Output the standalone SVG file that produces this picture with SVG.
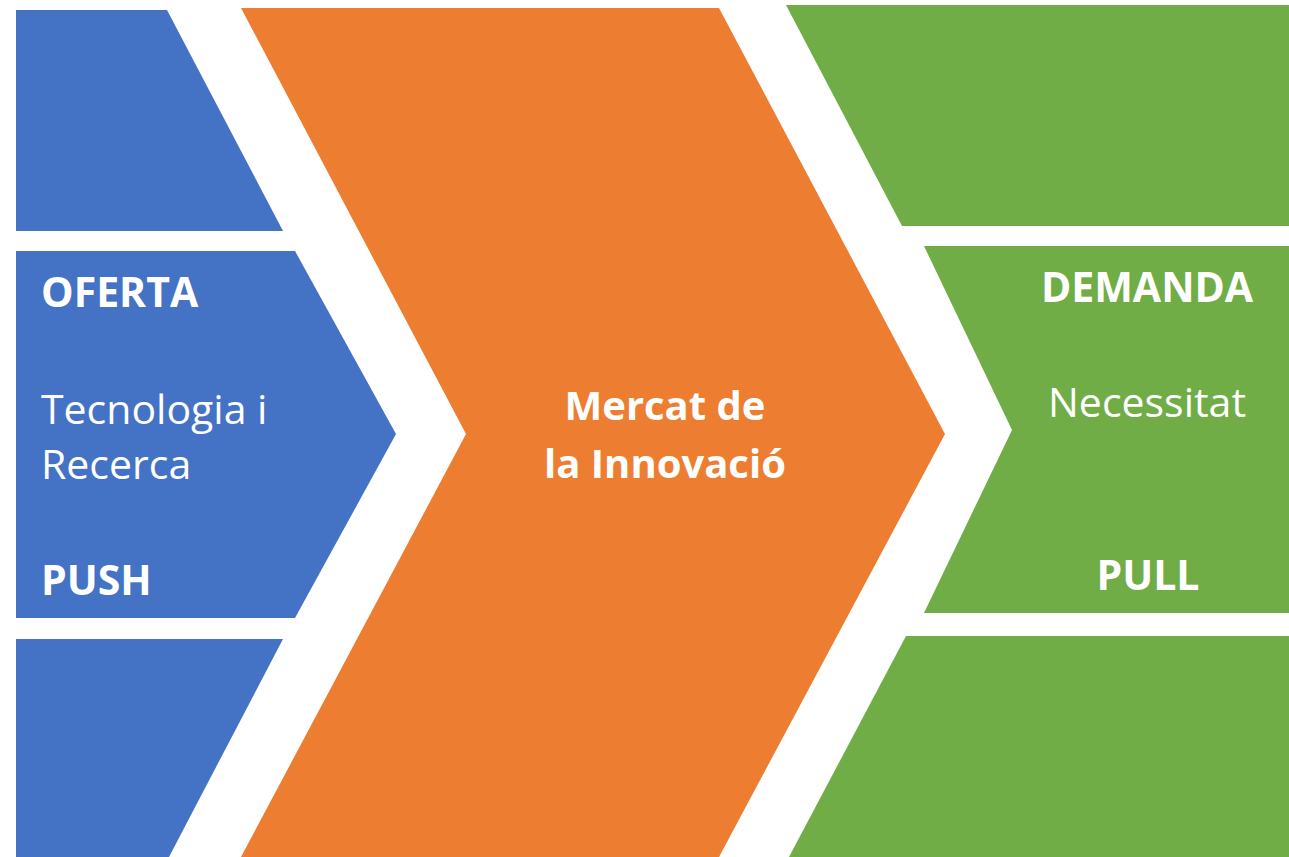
<svg xmlns="http://www.w3.org/2000/svg" width="1289" height="857" viewBox="0 0 1289 857">
<style>
.blue{fill:#4472C4}
.orange{fill:#ED7D31}
.green{fill:#70AD47}
text{fill:#FFFFFF;font-family:"Open Sans","Liberation Sans",sans-serif}
.b{font-weight:bold}
</style>
<rect width="1289" height="857" fill="#FFFFFF"/>
<g id="blue-top"><polygon class="blue" points="16,10 167,10 283,231 16,231"/></g>
<g id="oferta">
<polygon class="blue" points="16,251 295,251 396,434 295,618 16,618"/>
<text class="b" x="41" y="307" font-size="41">OFERTA</text>
<text x="41" y="424" font-size="41">Tecnologia i</text>
<text x="41" y="479" font-size="41">Recerca</text>
<text class="b" x="41" y="595" font-size="41">PUSH</text>
</g>
<g id="blue-bottom"><polygon class="blue" points="16,639 283,639 169,857 16,857"/></g>
<g id="mercat">
<polygon class="orange" points="241,8 719,8 945,434 719,857 241,857 466,434"/>
<text class="b" x="665" y="420" font-size="40" text-anchor="middle">Mercat de</text>
<text class="b" x="665" y="478" font-size="40" text-anchor="middle">la Innovació</text>
</g>
<g id="green-top"><polygon class="green" points="786,5 1289,5 1289,226 902,226"/></g>
<g id="demanda">
<polygon class="green" points="924,246 1289,246 1289,613 924,613 1012,430"/>
<text class="b" x="1147" y="302" font-size="41" text-anchor="middle">DEMANDA</text>
<text x="1147" y="417" font-size="41" text-anchor="middle">Necessitat</text>
<text class="b" x="1148" y="590" font-size="41" text-anchor="middle">PULL</text>
</g>
<g id="green-bottom"><polygon class="green" points="906,636 1289,636 1289,857 789,857"/></g>
<g id="connectors"></g>
</svg>
